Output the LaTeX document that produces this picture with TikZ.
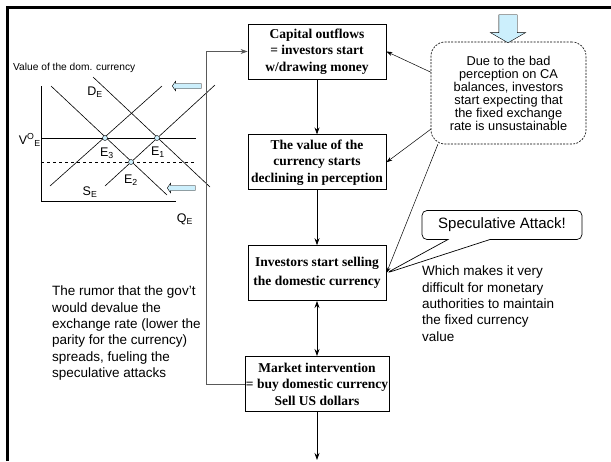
\documentclass[tikz,border=0pt]{standalone}
\usepackage{fontspec}
\setmainfont{Liberation Sans}
\newfontfamily\boxfont{Liberation Serif}
\usepackage{xcolor}
\usetikzlibrary{shapes.arrows, shapes.callouts, arrows.meta, positioning}

\begin{document}
\begin{tikzpicture}[
        x=1pt, y=-1pt,
        node distance=55pt,
        stepbox/.style={
            rectangle,
            draw=black,
            line width=0.8pt,
            minimum width=138pt,
            minimum height=55pt,
            inner sep=1pt,
            align=center,
            font=\boxfont\bfseries\fontsize{13.5}{16.5}\selectfont
        },
        doubt/.style={
            rectangle,
            draw=black,
            line width=0.6pt,
            dash pattern=on 2pt off 1.3pt,
            rounded corners=14pt,
            minimum width=155pt,
            minimum height=102pt,
            align=center,
            font=\fontsize{12.8}{13}\selectfont
        },
        note/.style={
            align=left,
            inner sep=0pt,
            font=\fontsize{13.5}{16.3}\selectfont
        },
        glabel/.style={inner sep=0pt, font=\fontsize{12.5}{14}\selectfont},
        eqpt/.style={circle, draw=black, fill=cyan!20, inner sep=0pt, minimum size=5pt},
        fatarrow/.style={
            single arrow,
            draw=black,
            fill=cyan!20,
            single arrow head indent=0pt
        },
        arrow/.style={-{Stealth[length=7pt, width=5pt]}, line width=0.7pt}
    ]

    \useasboundingbox (0,0) rectangle (611,461);

    % frame
    \draw [line width=3pt] (7,461) -- (7,7) -- (611,7);

    % market diagram
    \node [anchor=west, inner sep=0pt, font=\fontsize{10.2}{11}\selectfont] (vtitle) at (13,68) {Value of the dom. currency};
    \draw [line width=0.6pt] (41,86) -- (41,201) -- (176,201);
    \draw [line width=0.6pt] (41,138) -- (196,138);
    \draw [line width=0.6pt, dashed] (41,162) -- (196,162);
    \draw [line width=0.6pt] (51,86) -- (167,195);
    \draw [line width=0.6pt] (93,77) -- (210,187);
    \draw [line width=0.6pt] (50,186) -- (162,86);
    \draw [line width=0.6pt] (105,186) -- (215,85);

    \node [eqpt] (e3) at (105,138) {};
    \node [eqpt] (e1) at (157,138) {};
    \node [eqpt] (e2) at (131,162) {};

    \node [glabel] (de) at (95,92) {D\textsubscript{E}};
    \node [glabel, anchor=east] (vo) at (41,140) {V\textsuperscript{O}\textsubscript{E}};
    \node [glabel] (le3) at (107,153) {E\textsubscript{3}};
    \node [glabel] (le1) at (158,152) {E\textsubscript{1}};
    \node [glabel] (le2) at (131,180) {E\textsubscript{2}};
    \node [glabel] (se) at (90,192) {S\textsubscript{E}};
    \node [glabel] (qe) at (185,219) {Q\textsubscript{E}};

    \node [fatarrow, shape border rotate=180, minimum height=29pt, inner xsep=0pt, inner ysep=2.3pt,
           single arrow head extend=2.3pt, single arrow tip angle=110, anchor=tip] (shiftd) at (172,86) {};
    \node [fatarrow, shape border rotate=180, minimum height=28pt, inner xsep=0pt, inner ysep=2.3pt,
           single arrow head extend=2.3pt, single arrow tip angle=110, anchor=tip] (shifts) at (167,188) {};

    % flow chart
    \node (outflow) [stepbox] at (317,51.5) {Capital outflows\\= investors start\\w/drawing money};
    \node (decline) [stepbox, below=of outflow] {The value of the\\currency starts\\declining in perception};
    \node (selling) [stepbox, below=of decline, font=\boxfont\bfseries\fontsize{13.5}{19}\selectfont] {Investors start selling\\the domestic currency};
    \node (interv) [stepbox, below=of selling] {Market intervention\\= buy domestic currency\\Sell US dollars};
    \coordinate (bottom) at (317,460);

    \node (percep) [doubt] at (508.5,93) {Due to the bad\\perception on CA\\balances, investors\\start expecting that\\the fixed exchange\\rate is unsustainable};
    \node [fatarrow, shape border rotate=270, minimum height=28pt, inner xsep=9pt, inner ysep=0pt,
           single arrow head extend=8.5pt, single arrow tip angle=120, anchor=tip] (cause) at (508,43) {};

    \node (attack) [rectangle callout, draw=black, fill=white, line width=0.7pt,
                    rounded corners=5pt, minimum width=160pt, minimum height=29pt,
                    callout absolute pointer={(selling.east)}, callout pointer width=42pt,
                    font=\fontsize{15}{17}\selectfont] at (502,225) {Speculative Attack!};

    \node (hard) [note, anchor=north west] at (422,266) {Which makes it very\\difficult for monetary\\authorities to maintain\\the fixed currency\\value};
    \node (rumor) [note, anchor=north west] at (52,286) {The rumor that the gov't\\would devalue the\\exchange rate (lower the\\parity for the currency)\\spreads, fueling the\\speculative attacks};

    \draw [arrow] (outflow) -- (decline);
    \draw [arrow] (decline) -- (selling);
    \draw [{Stealth[length=7pt, width=5pt]}-{Stealth[length=7pt, width=5pt]}, line width=0.7pt] (selling) -- (interv);
    \draw [arrow] (interv) -- (bottom);
    \draw [arrow, draw=gray!70!black, line width=0.8pt] (interv.west) -- ++(-38,0) |- (outflow.west);

    \draw [-{Stealth[length=6pt, width=4pt]}, line width=0.5pt] (percep.165) -- (outflow.east);
    \draw [-{Stealth[length=6pt, width=4pt]}, line width=0.5pt] (percep.205) -- (decline.east);
    \draw [-{Stealth[length=6pt, width=4pt]}, line width=0.5pt] (percep.216) -- (selling.east);

    \end{tikzpicture}
\end{document}
